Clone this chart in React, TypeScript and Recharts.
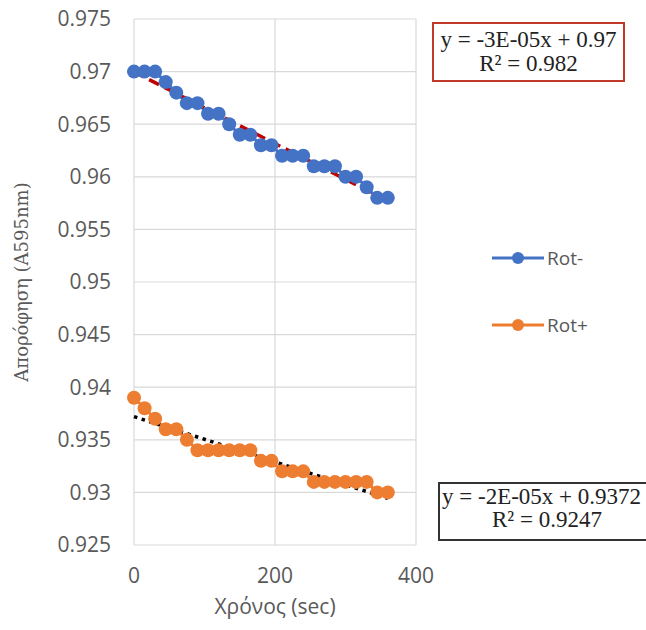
import React from 'react';
import { ComposedChart, Line, XAxis, YAxis, CartesianGrid, Legend } from 'recharts';

const times = [0, 15, 30, 45, 60, 75, 90, 105, 120, 135, 150, 165, 180, 195, 210, 225, 240, 255, 270, 285, 300, 315, 330, 345, 360];
const rotMinus = [0.970, 0.970, 0.970, 0.969, 0.968, 0.967, 0.967, 0.966, 0.966, 0.965, 0.964, 0.964, 0.963, 0.963, 0.962, 0.962, 0.962, 0.961, 0.961, 0.961, 0.960, 0.960, 0.959, 0.958, 0.958];
const rotPlus = [0.939, 0.938, 0.937, 0.936, 0.936, 0.935, 0.934, 0.934, 0.934, 0.934, 0.934, 0.934, 0.933, 0.933, 0.932, 0.932, 0.932, 0.931, 0.931, 0.931, 0.931, 0.931, 0.931, 0.930, 0.930];
const xTicks = [0, 200, 400];
const yTicks = [0.925, 0.93, 0.935, 0.94, 0.945, 0.95, 0.955, 0.96, 0.965, 0.97, 0.975];
const seriesNames = ['Rot-', 'Rot+'];
const eqMinus = ['y = -3E-05x + 0.97', 'R² = 0.982'];
const eqPlus = ['y = -2E-05x + 0.9372', 'R² = 0.9247'];
const yTitle = 'Απορόφηση (Α595nm)';
const xTitle = 'Χρόνος (sec)';

const BLUE = '#4472C4';
const ORANGE = '#ED7D31';
const GREY = '#595959';
const SANS = '"Open Sans", "Noto Sans", sans-serif';
const SERIF = '"Liberation Serif", "Times New Roman", "DejaVu Serif", serif';
const GREEK_SERIF = '"DejaVu Serif", serif';

function fit(xs: number[], ys: number[]) {
  const n = xs.length;
  const mx = xs.reduce((a, b) => a + b, 0) / n;
  const my = ys.reduce((a, b) => a + b, 0) / n;
  let sxy = 0, sxx = 0;
  for (let i = 0; i < n; i++) {
    sxy += (xs[i] - mx) * (ys[i] - my);
    sxx += (xs[i] - mx) * (xs[i] - mx);
  }
  const m = sxy / sxx;
  const b = my - m * mx;
  const x0 = xs[0], x1 = xs[n - 1];
  return [{ t: x0, v: b + m * x0 }, { t: x1, v: b + m * x1 }];
}

const data = times.map((t, i) => ({ t, minus: rotMinus[i], plus: rotPlus[i] }));
const trendMinus = fit(times, rotMinus);
const trendPlus = fit(times, rotPlus);

const renderLegend = () => (
  <div style={{ fontFamily: SANS, fontSize: 19, color: GREY }}>
    {[{ name: seriesNames[0], c: BLUE }, { name: seriesNames[1], c: ORANGE }].map((it, i) => (
      <div key={it.name} style={{ display: 'flex', alignItems: 'center', height: 30, marginBottom: i === 0 ? 37 : 0 }}>
        <svg width={52} height={16} style={{ marginRight: 3 }}>
          <line x1={0} y1={8} x2={52} y2={8} stroke={it.c} strokeWidth={3} />
          <circle cx={26} cy={8} r={6} fill={it.c} />
        </svg>
        <span>{it.name}</span>
      </div>
    ))}
  </div>
);

export default function App() {
  return (
    <div style={{ position: 'absolute', left: 0, top: 0, width: 646, height: 630, background: '#fff', overflow: 'hidden' }}>
      <ComposedChart width={646} height={630} data={data} margin={{ top: 19, right: 230, bottom: 0, left: 0 }}>
        <CartesianGrid stroke="#d9d9d9" strokeWidth={1.2} />
        <XAxis
          dataKey="t"
          type="number"
          domain={[0, 400]}
          ticks={xTicks}
          axisLine={false}
          tickLine={false}
          tickSize={0}
          tickMargin={23}
          height={85}
          tick={{ fill: GREY, fontSize: 21, fontFamily: SANS }}
          label={{ value: xTitle, position: 'insideBottom', dy: -11, fill: GREY, fontSize: 21, fontFamily: SANS }}
        />
        <YAxis
          type="number"
          domain={[0.925, 0.975]}
          ticks={yTicks}
          interval={0}
          axisLine={false}
          tickLine={false}
          tickSize={0}
          tickMargin={23}
          width={134}
          tick={{ fill: GREY, fontSize: 21, fontFamily: SANS }}
        />
        <Legend layout="vertical" align="center" verticalAlign="middle" content={renderLegend}
          wrapperStyle={{ position: 'absolute', left: 492, top: 243, width: 120, height: 100 }} />
        <Line dataKey="minus" name={seriesNames[0]} stroke={BLUE} strokeWidth={3} dot={{ r: 7, fill: BLUE, stroke: BLUE, strokeWidth: 0 }} isAnimationActive={false} legendType="line" />
        <Line dataKey="plus" name={seriesNames[1]} stroke={ORANGE} strokeWidth={3} dot={{ r: 7, fill: ORANGE, stroke: ORANGE, strokeWidth: 0 }} isAnimationActive={false} legendType="line" />
        <Line data={trendMinus} dataKey="v" stroke="#C00000" strokeWidth={3.5} strokeDasharray="11 6" dot={false} isAnimationActive={false} legendType="none" />
        <Line data={trendPlus} dataKey="v" stroke="#000000" strokeWidth={3.5} strokeDasharray="3.5 4.5" dot={false} isAnimationActive={false} legendType="none" />
      </ComposedChart>
      <div style={{ position: 'absolute', left: 22, top: 282, width: 0, height: 0 }}>
        <div style={{ position: 'absolute', left: 0, top: 0, transform: 'translate(-50%, -50%) rotate(-90deg)', whiteSpace: 'nowrap', fontFamily: GREEK_SERIF, fontSize: 18, lineHeight: '22px', color: GREY }}>
          {yTitle}
        </div>
      </div>
      <div style={{ position: 'absolute', left: 432, top: 22, width: 189, height: 52, border: '2px solid #C0392B', fontFamily: SERIF, fontSize: 23, lineHeight: '24px', color: '#222', textAlign: 'center', paddingTop: 4, background: '#fff', whiteSpace: 'nowrap' }}>
        <div>{eqMinus[0]}</div>
        <div>{eqMinus[1]}</div>
      </div>
      <div style={{ position: 'absolute', left: 438, top: 482, width: 240, height: 54, border: '2px solid #333', fontFamily: SERIF, fontSize: 23, lineHeight: '23px', color: '#222', paddingTop: 1, background: '#fff', whiteSpace: 'nowrap' }}>
        <div style={{ paddingLeft: 2 }}>{eqPlus[0]}</div>
        <div style={{ paddingLeft: 52 }}>{eqPlus[1]}</div>
      </div>
    </div>
  );
}
